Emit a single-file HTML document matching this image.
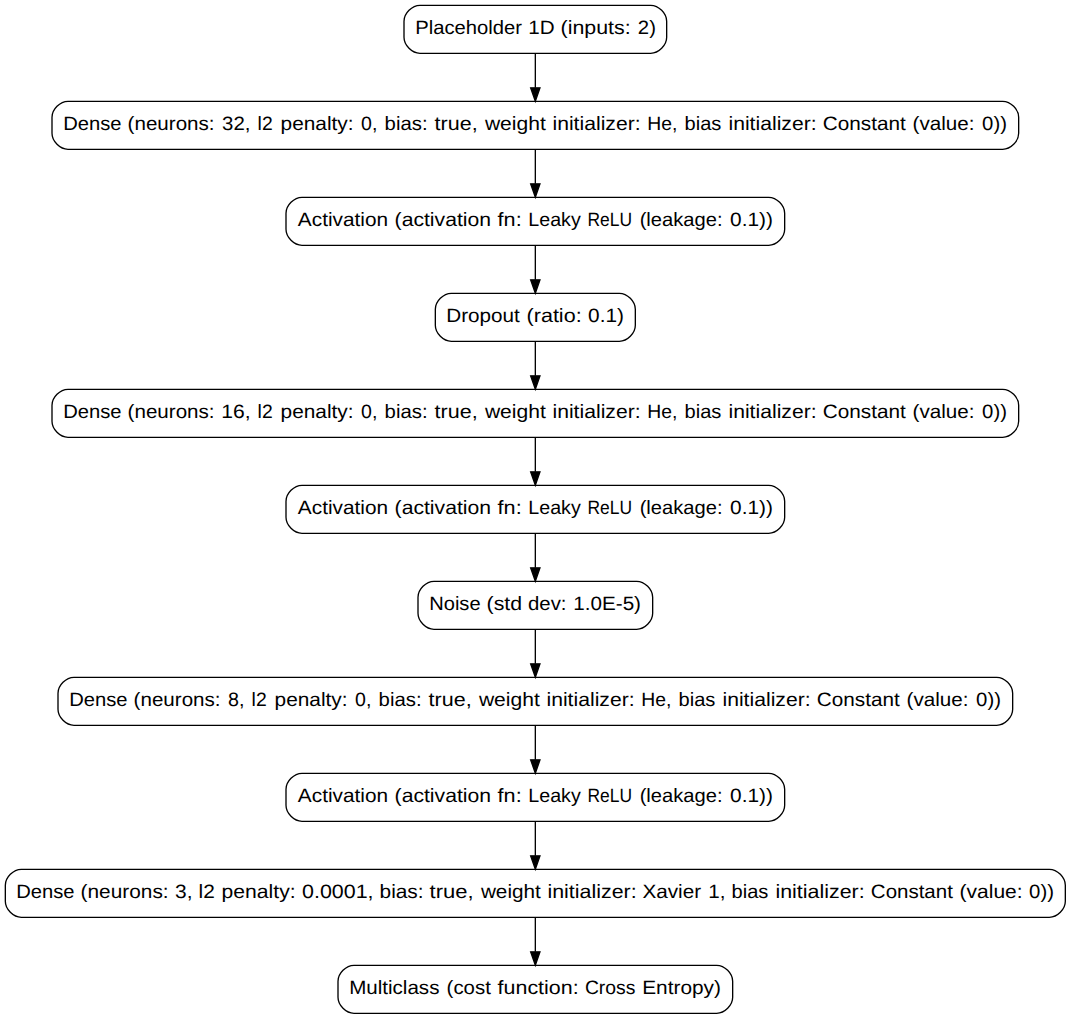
<!DOCTYPE html>
<html><head><meta charset="utf-8"><style>
html,body{margin:0;padding:0;background:#fff;width:1071px;height:1019px;overflow:hidden}
svg{display:block}
path{fill:none;stroke:#000;stroke-width:1.33px}
.a{fill:#000;stroke:#000;stroke-width:1.33px}
text{text-rendering:geometricPrecision;font-family:"Liberation Sans",sans-serif;font-size:19.3px;fill:#000;stroke:#000;stroke-width:0px}
</style></head><body>
<svg width="1071" height="1019" viewBox="0 0 1071 1019">
<path d="M650.67,5.33C650.67,5.33 420,5.33 420,5.33 412,5.33 404,13.33 404,21.33 404,21.33 404,37.33 404,37.33 404,45.33 412,53.33 420,53.33 420,53.33 650.67,53.33 650.67,53.33 658.67,53.33 666.67,45.33 666.67,37.33 666.67,37.33 666.67,21.33 666.67,21.33 666.67,13.33 658.67,5.33 650.67,5.33"/>
<text x="415.24" y="34.27" textLength="106.81" lengthAdjust="spacingAndGlyphs">Placeholder</text>
<text x="528.33" y="34.27" textLength="26.36" lengthAdjust="spacingAndGlyphs">1D</text>
<text x="560.58" y="34.27" textLength="70.08" lengthAdjust="spacingAndGlyphs">(inputs:</text>
<text x="637.88" y="34.27" textLength="18.08" lengthAdjust="spacingAndGlyphs">2)</text>
<path d="M1002.67,101.33C1002.67,101.33 68,101.33 68,101.33 60,101.33 52,109.33 52,117.33 52,117.33 52,133.33 52,133.33 52,141.33 60,149.33 68,149.33 68,149.33 1002.67,149.33 1002.67,149.33 1010.67,149.33 1018.67,141.33 1018.67,133.33 1018.67,133.33 1018.67,117.33 1018.67,117.33 1018.67,109.33 1010.67,101.33 1002.67,101.33"/>
<text x="63.24" y="130.27" textLength="58.36" lengthAdjust="spacingAndGlyphs">Dense</text>
<text x="127.62" y="130.27" textLength="86.94" lengthAdjust="spacingAndGlyphs">(neurons:</text>
<text x="222.12" y="130.27" textLength="28.42" lengthAdjust="spacingAndGlyphs">32,</text>
<text x="257.6" y="130.27" textLength="15.07" lengthAdjust="spacingAndGlyphs">l2</text>
<text x="280.57" y="130.27" textLength="73.02" lengthAdjust="spacingAndGlyphs">penalty:</text>
<text x="361.14" y="130.27" textLength="16.32" lengthAdjust="spacingAndGlyphs">0,</text>
<text x="384.58" y="130.27" textLength="42.98" lengthAdjust="spacingAndGlyphs">bias:</text>
<text x="434.58" y="130.27" textLength="43.06" lengthAdjust="spacingAndGlyphs">true,</text>
<text x="484.92" y="130.27" textLength="60.92" lengthAdjust="spacingAndGlyphs">weight</text>
<text x="552.48" y="130.27" textLength="88.14" lengthAdjust="spacingAndGlyphs">initializer:</text>
<text x="647.31" y="130.27" textLength="30.13" lengthAdjust="spacingAndGlyphs">He,</text>
<text x="684.59" y="130.27" textLength="36.84" lengthAdjust="spacingAndGlyphs">bias</text>
<text x="728.48" y="130.27" textLength="88.14" lengthAdjust="spacingAndGlyphs">initializer:</text>
<text x="822.84" y="130.27" textLength="82.99" lengthAdjust="spacingAndGlyphs">Constant</text>
<text x="912.62" y="130.27" textLength="61.95" lengthAdjust="spacingAndGlyphs">(value:</text>
<text x="982.11" y="130.27" textLength="24.86" lengthAdjust="spacingAndGlyphs">0))</text>
<path d="M535.33,53.73C535.33,64.03 535.33,76.39 535.33,87.85"/>
<polygon class="a" points="540,87.87 535.33,101.2 530.67,87.87 540,87.87"/>
<path d="M768.67,197.33C768.67,197.33 302,197.33 302,197.33 294,197.33 286,205.33 286,213.33 286,213.33 286,229.33 286,229.33 286,237.33 294,245.33 302,245.33 302,245.33 768.67,245.33 768.67,245.33 776.67,245.33 784.67,237.33 784.67,229.33 784.67,229.33 784.67,213.33 784.67,213.33 784.67,205.33 776.67,197.33 768.67,197.33"/>
<text x="297.86" y="226.27" textLength="90.2" lengthAdjust="spacingAndGlyphs">Activation</text>
<text x="394.59" y="226.27" textLength="96.5" lengthAdjust="spacingAndGlyphs">(activation</text>
<text x="497.6" y="226.27" textLength="24.07" lengthAdjust="spacingAndGlyphs">fn:</text>
<text x="528.29" y="226.27" textLength="52.46" lengthAdjust="spacingAndGlyphs">Leaky</text>
<text x="587.47" y="226.27" textLength="44.58" lengthAdjust="spacingAndGlyphs">ReLU</text>
<text x="639.65" y="226.27" textLength="82.88" lengthAdjust="spacingAndGlyphs">(leakage:</text>
<text x="730.09" y="226.27" textLength="42.91" lengthAdjust="spacingAndGlyphs">0.1))</text>
<path d="M535.33,149.73C535.33,160.03 535.33,172.39 535.33,183.85"/>
<polygon class="a" points="540,183.87 535.33,197.2 530.67,183.87 540,183.87"/>
<path d="M619.33,293.33C619.33,293.33 451.33,293.33 451.33,293.33 443.33,293.33 435.33,301.33 435.33,309.33 435.33,309.33 435.33,325.33 435.33,325.33 435.33,333.33 443.33,341.33 451.33,341.33 451.33,341.33 619.33,341.33 619.33,341.33 627.33,341.33 635.33,333.33 635.33,325.33 635.33,325.33 635.33,309.33 635.33,309.33 635.33,301.33 627.33,293.33 619.33,293.33"/>
<text x="446.2" y="322.27" textLength="73.63" lengthAdjust="spacingAndGlyphs">Dropout</text>
<text x="526.56" y="322.27" textLength="55.1" lengthAdjust="spacingAndGlyphs">(ratio:</text>
<text x="588.09" y="322.27" textLength="35.91" lengthAdjust="spacingAndGlyphs">0.1)</text>
<path d="M535.33,245.73C535.33,256.03 535.33,268.39 535.33,279.85"/>
<polygon class="a" points="540,279.87 535.33,293.2 530.67,279.87 540,279.87"/>
<path d="M1002.67,389.33C1002.67,389.33 68,389.33 68,389.33 60,389.33 52,397.33 52,405.33 52,405.33 52,421.33 52,421.33 52,429.33 60,437.33 68,437.33 68,437.33 1002.67,437.33 1002.67,437.33 1010.67,437.33 1018.67,429.33 1018.67,421.33 1018.67,421.33 1018.67,405.33 1018.67,405.33 1018.67,397.33 1010.67,389.33 1002.67,389.33"/>
<text x="63.24" y="418.27" textLength="58.36" lengthAdjust="spacingAndGlyphs">Dense</text>
<text x="127.62" y="418.27" textLength="86.94" lengthAdjust="spacingAndGlyphs">(neurons:</text>
<text x="221.3" y="418.27" textLength="29.3" lengthAdjust="spacingAndGlyphs">16,</text>
<text x="257.6" y="418.27" textLength="15.07" lengthAdjust="spacingAndGlyphs">l2</text>
<text x="280.57" y="418.27" textLength="73.02" lengthAdjust="spacingAndGlyphs">penalty:</text>
<text x="361.14" y="418.27" textLength="16.32" lengthAdjust="spacingAndGlyphs">0,</text>
<text x="384.58" y="418.27" textLength="42.98" lengthAdjust="spacingAndGlyphs">bias:</text>
<text x="434.58" y="418.27" textLength="43.06" lengthAdjust="spacingAndGlyphs">true,</text>
<text x="484.92" y="418.27" textLength="60.92" lengthAdjust="spacingAndGlyphs">weight</text>
<text x="552.48" y="418.27" textLength="88.14" lengthAdjust="spacingAndGlyphs">initializer:</text>
<text x="647.31" y="418.27" textLength="30.13" lengthAdjust="spacingAndGlyphs">He,</text>
<text x="684.59" y="418.27" textLength="36.84" lengthAdjust="spacingAndGlyphs">bias</text>
<text x="728.48" y="418.27" textLength="88.14" lengthAdjust="spacingAndGlyphs">initializer:</text>
<text x="822.84" y="418.27" textLength="82.99" lengthAdjust="spacingAndGlyphs">Constant</text>
<text x="912.62" y="418.27" textLength="61.95" lengthAdjust="spacingAndGlyphs">(value:</text>
<text x="982.11" y="418.27" textLength="24.86" lengthAdjust="spacingAndGlyphs">0))</text>
<path d="M535.33,341.73C535.33,352.03 535.33,364.39 535.33,375.85"/>
<polygon class="a" points="540,375.87 535.33,389.2 530.67,375.87 540,375.87"/>
<path d="M768.67,485.33C768.67,485.33 302,485.33 302,485.33 294,485.33 286,493.33 286,501.33 286,501.33 286,517.33 286,517.33 286,525.33 294,533.33 302,533.33 302,533.33 768.67,533.33 768.67,533.33 776.67,533.33 784.67,525.33 784.67,517.33 784.67,517.33 784.67,501.33 784.67,501.33 784.67,493.33 776.67,485.33 768.67,485.33"/>
<text x="297.86" y="514.27" textLength="90.2" lengthAdjust="spacingAndGlyphs">Activation</text>
<text x="394.59" y="514.27" textLength="96.5" lengthAdjust="spacingAndGlyphs">(activation</text>
<text x="497.6" y="514.27" textLength="24.07" lengthAdjust="spacingAndGlyphs">fn:</text>
<text x="528.29" y="514.27" textLength="52.46" lengthAdjust="spacingAndGlyphs">Leaky</text>
<text x="587.47" y="514.27" textLength="44.58" lengthAdjust="spacingAndGlyphs">ReLU</text>
<text x="639.65" y="514.27" textLength="82.88" lengthAdjust="spacingAndGlyphs">(leakage:</text>
<text x="730.09" y="514.27" textLength="42.91" lengthAdjust="spacingAndGlyphs">0.1))</text>
<path d="M535.33,437.73C535.33,448.03 535.33,460.39 535.33,471.85"/>
<polygon class="a" points="540,471.87 535.33,485.2 530.67,471.87 540,471.87"/>
<path d="M636.67,581.33C636.67,581.33 434,581.33 434,581.33 426,581.33 418,589.33 418,597.33 418,597.33 418,613.33 418,613.33 418,621.33 426,629.33 434,629.33 434,629.33 636.67,629.33 636.67,629.33 644.67,629.33 652.67,621.33 652.67,613.33 652.67,613.33 652.67,597.33 652.67,597.33 652.67,589.33 644.67,581.33 636.67,581.33"/>
<text x="429.25" y="610.27" textLength="51.32" lengthAdjust="spacingAndGlyphs">Noise</text>
<text x="486.58" y="610.27" textLength="35.48" lengthAdjust="spacingAndGlyphs">(std</text>
<text x="528.04" y="610.27" textLength="38.51" lengthAdjust="spacingAndGlyphs">dev:</text>
<text x="573.33" y="610.27" textLength="67.65" lengthAdjust="spacingAndGlyphs">1.0E-5)</text>
<path d="M535.33,533.73C535.33,544.03 535.33,556.39 535.33,567.85"/>
<polygon class="a" points="540,567.87 535.33,581.2 530.67,567.87 540,567.87"/>
<path d="M996.67,677.33C996.67,677.33 74,677.33 74,677.33 66,677.33 58,685.33 58,693.33 58,693.33 58,709.33 58,709.33 58,717.33 66,725.33 74,725.33 74,725.33 996.67,725.33 996.67,725.33 1004.67,725.33 1012.67,717.33 1012.67,709.33 1012.67,709.33 1012.67,693.33 1012.67,693.33 1012.67,685.33 1004.67,677.33 996.67,677.33"/>
<text x="69.24" y="706.27" textLength="58.36" lengthAdjust="spacingAndGlyphs">Dense</text>
<text x="133.62" y="706.27" textLength="86.94" lengthAdjust="spacingAndGlyphs">(neurons:</text>
<text x="228.05" y="706.27" textLength="16.42" lengthAdjust="spacingAndGlyphs">8,</text>
<text x="251.6" y="706.27" textLength="15.07" lengthAdjust="spacingAndGlyphs">l2</text>
<text x="274.57" y="706.27" textLength="73.02" lengthAdjust="spacingAndGlyphs">penalty:</text>
<text x="355.14" y="706.27" textLength="16.32" lengthAdjust="spacingAndGlyphs">0,</text>
<text x="378.58" y="706.27" textLength="42.98" lengthAdjust="spacingAndGlyphs">bias:</text>
<text x="428.58" y="706.27" textLength="43.06" lengthAdjust="spacingAndGlyphs">true,</text>
<text x="478.92" y="706.27" textLength="60.92" lengthAdjust="spacingAndGlyphs">weight</text>
<text x="546.48" y="706.27" textLength="88.14" lengthAdjust="spacingAndGlyphs">initializer:</text>
<text x="641.31" y="706.27" textLength="30.13" lengthAdjust="spacingAndGlyphs">He,</text>
<text x="678.59" y="706.27" textLength="36.84" lengthAdjust="spacingAndGlyphs">bias</text>
<text x="722.48" y="706.27" textLength="88.14" lengthAdjust="spacingAndGlyphs">initializer:</text>
<text x="816.84" y="706.27" textLength="82.99" lengthAdjust="spacingAndGlyphs">Constant</text>
<text x="906.62" y="706.27" textLength="61.95" lengthAdjust="spacingAndGlyphs">(value:</text>
<text x="976.11" y="706.27" textLength="24.86" lengthAdjust="spacingAndGlyphs">0))</text>
<path d="M535.33,629.73C535.33,640.03 535.33,652.39 535.33,663.85"/>
<polygon class="a" points="540,663.87 535.33,677.2 530.67,663.87 540,663.87"/>
<path d="M768.67,773.33C768.67,773.33 302,773.33 302,773.33 294,773.33 286,781.33 286,789.33 286,789.33 286,805.33 286,805.33 286,813.33 294,821.33 302,821.33 302,821.33 768.67,821.33 768.67,821.33 776.67,821.33 784.67,813.33 784.67,805.33 784.67,805.33 784.67,789.33 784.67,789.33 784.67,781.33 776.67,773.33 768.67,773.33"/>
<text x="297.86" y="802.27" textLength="90.2" lengthAdjust="spacingAndGlyphs">Activation</text>
<text x="394.59" y="802.27" textLength="96.5" lengthAdjust="spacingAndGlyphs">(activation</text>
<text x="497.6" y="802.27" textLength="24.07" lengthAdjust="spacingAndGlyphs">fn:</text>
<text x="528.29" y="802.27" textLength="52.46" lengthAdjust="spacingAndGlyphs">Leaky</text>
<text x="587.47" y="802.27" textLength="44.58" lengthAdjust="spacingAndGlyphs">ReLU</text>
<text x="639.65" y="802.27" textLength="82.88" lengthAdjust="spacingAndGlyphs">(leakage:</text>
<text x="730.09" y="802.27" textLength="42.91" lengthAdjust="spacingAndGlyphs">0.1))</text>
<path d="M535.33,725.73C535.33,736.03 535.33,748.39 535.33,759.85"/>
<polygon class="a" points="540,759.87 535.33,773.2 530.67,759.87 540,759.87"/>
<path d="M1049.33,869.33C1049.33,869.33 21.33,869.33 21.33,869.33 13.33,869.33 5.33,877.33 5.33,885.33 5.33,885.33 5.33,901.33 5.33,901.33 5.33,909.33 13.33,917.33 21.33,917.33 21.33,917.33 1049.33,917.33 1049.33,917.33 1057.33,917.33 1065.33,909.33 1065.33,901.33 1065.33,901.33 1065.33,885.33 1065.33,885.33 1065.33,877.33 1057.33,869.33 1049.33,869.33"/>
<text x="16.24" y="898.27" textLength="58.36" lengthAdjust="spacingAndGlyphs">Dense</text>
<text x="80.61" y="898.27" textLength="87.98" lengthAdjust="spacingAndGlyphs">(neurons:</text>
<text x="175.1" y="898.27" textLength="17.48" lengthAdjust="spacingAndGlyphs">3,</text>
<text x="198.5" y="898.27" textLength="16.25" lengthAdjust="spacingAndGlyphs">l2</text>
<text x="221.55" y="898.27" textLength="74.07" lengthAdjust="spacingAndGlyphs">penalty:</text>
<text x="302.06" y="898.27" textLength="71.55" lengthAdjust="spacingAndGlyphs">0.0001,</text>
<text x="379.54" y="898.27" textLength="44.06" lengthAdjust="spacingAndGlyphs">bias:</text>
<text x="429.57" y="898.27" textLength="44.11" lengthAdjust="spacingAndGlyphs">true,</text>
<text x="480.92" y="898.27" textLength="59.92" lengthAdjust="spacingAndGlyphs">weight</text>
<text x="547.47" y="898.27" textLength="89.18" lengthAdjust="spacingAndGlyphs">initializer:</text>
<text x="642.42" y="898.27" textLength="58.64" lengthAdjust="spacingAndGlyphs">Xavier</text>
<text x="708.33" y="898.27" textLength="17.23" lengthAdjust="spacingAndGlyphs">1,</text>
<text x="731.59" y="898.27" textLength="36.84" lengthAdjust="spacingAndGlyphs">bias</text>
<text x="775.47" y="898.27" textLength="89.18" lengthAdjust="spacingAndGlyphs">initializer:</text>
<text x="870.86" y="898.27" textLength="81.98" lengthAdjust="spacingAndGlyphs">Constant</text>
<text x="959.6" y="898.27" textLength="63" lengthAdjust="spacingAndGlyphs">(value:</text>
<text x="1029.11" y="898.27" textLength="24.86" lengthAdjust="spacingAndGlyphs">0))</text>
<path d="M535.33,821.73C535.33,832.03 535.33,844.39 535.33,855.85"/>
<polygon class="a" points="540,855.87 535.33,869.2 530.67,855.87 540,855.87"/>
<path d="M716.67,965.33C716.67,965.33 354,965.33 354,965.33 346,965.33 338,973.33 338,981.33 338,981.33 338,997.33 338,997.33 338,1005.33 346,1013.33 354,1013.33 354,1013.33 716.67,1013.33 716.67,1013.33 724.67,1013.33 732.67,1005.33 732.67,997.33 732.67,997.33 732.67,981.33 732.67,981.33 732.67,973.33 724.67,965.33 716.67,965.33"/>
<text x="349.21" y="994.27" textLength="90.22" lengthAdjust="spacingAndGlyphs">Multiclass</text>
<text x="446.64" y="994.27" textLength="44.21" lengthAdjust="spacingAndGlyphs">(cost</text>
<text x="497.6" y="994.27" textLength="81.06" lengthAdjust="spacingAndGlyphs">function:</text>
<text x="584.91" y="994.27" textLength="50.49" lengthAdjust="spacingAndGlyphs">Cross</text>
<text x="642.19" y="994.27" textLength="78.81" lengthAdjust="spacingAndGlyphs">Entropy)</text>
<path d="M535.33,917.73C535.33,928.03 535.33,940.39 535.33,951.85"/>
<polygon class="a" points="540,951.87 535.33,965.2 530.67,951.87 540,951.87"/>
</svg>
</body></html>
